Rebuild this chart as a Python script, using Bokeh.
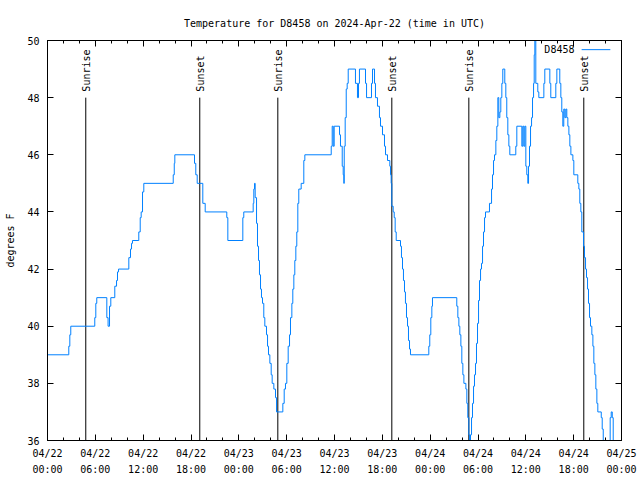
import math
from bokeh.plotting import figure
from bokeh.models import Range1d, FixedTicker, LinearAxis, ColumnDataSource
from bokeh.core.properties import value
from bokeh.embed import file_html
from bokeh.resources import INLINE

# ---- data (hours since 2024-04-22 00:00 UTC, temperature in F) ----
hours = [0.0, 2.67, 2.80, 2.92, 5.93, 6.06, 6.18, 7.44, 7.60, 7.78, 7.94, 8.44, 8.66, 8.78, 8.91,
         10.20, 10.41, 10.54, 10.66, 11.45, 11.63, 11.75, 11.92, 12.08, 15.77, 15.90, 15.97,
         18.44, 18.60, 18.78, 19.48, 19.78, 22.49, 22.62, 24.50, 24.62, 25.80, 25.88, 25.97,
         26.05, 26.22, 26.34, 26.47, 26.59, 26.72, 26.84, 26.97, 27.13, 27.26, 27.47, 27.60,
         27.72, 27.89, 28.06, 28.18, 28.39, 28.60, 28.73, 29.52, 29.69, 29.85, 30.02, 30.19,
         30.36, 30.48, 30.65, 30.77, 30.90, 31.02, 31.15, 31.27, 31.40, 31.52, 31.82, 32.15,
         32.28, 35.59, 35.71, 35.84, 35.96, 36.63, 36.75, 36.97, 37.09, 37.17, 37.22, 37.34,
         37.47, 37.59, 37.72, 38.63, 38.88, 39.01, 39.13, 39.89, 40.02, 40.64, 40.77, 41.02,
         41.14, 41.39, 41.64, 41.77, 42.02, 42.27, 42.40, 42.65, 42.94, 43.03, 43.11, 43.19,
         43.36, 43.49, 43.61, 43.74, 44.28, 44.40, 44.53, 44.65, 44.78, 44.90, 45.03, 45.16,
         45.28, 45.41, 45.53, 47.83, 47.95, 48.08, 48.21, 48.29, 51.34, 51.47, 51.60, 51.72,
         51.85, 51.97, 52.10, 52.23, 52.48, 52.60, 52.72, 52.85, 52.94, 53.06, 53.19, 53.31,
         53.44, 53.56, 53.69, 53.81, 53.94, 54.07, 54.19, 54.32, 54.44, 54.57, 54.69, 54.82,
         54.94, 55.44, 55.70, 55.82, 55.95, 56.07, 56.24, 56.36, 56.49, 56.61, 56.74, 56.86,
         56.99, 57.11, 57.36, 57.49, 57.61, 57.74, 57.87, 57.99, 58.74, 58.87, 59.50, 59.62,
         59.75, 59.87, 60.00, 60.12, 60.25, 60.34, 60.46, 60.59, 60.72, 60.84, 60.97, 61.05,
         61.13, 61.25, 61.50, 61.63, 62.26, 62.38, 63.01, 63.13, 63.76, 63.89, 64.26, 64.39,
         64.51, 64.64, 64.76, 64.89, 65.02, 65.14, 65.27, 65.40, 65.52, 65.65, 65.90, 66.02,
         66.52, 66.65, 66.77, 66.90, 67.02, 67.24, 67.36, 67.49, 67.61, 67.74, 67.86, 67.99,
         68.11, 68.28, 68.41, 68.53, 68.66, 68.78, 68.91, 69.03, 69.46, 69.58, 69.71, 70.58,
         70.71, 70.84, 70.96, 71.00]
temps = [39.0, 39.3, 39.7, 40.0, 40.3, 40.8, 41.0, 40.3, 40.0, 40.7, 41.0, 41.4, 41.6, 41.9, 42.0,
         42.4, 42.7, 42.9, 43.0, 43.3, 43.8, 44.0, 44.7, 45.0, 45.3, 45.7, 46.0,
         45.7, 45.3, 45.0, 44.3, 44.0, 43.8, 43.0, 43.8, 44.0, 44.3, 44.8, 45.0,
         44.5, 43.6, 42.8, 42.3, 41.8, 41.3, 41.0, 40.8, 40.3, 40.0, 39.7, 39.3,
         39.0, 38.7, 38.3, 38.0, 37.8, 37.5, 37.0, 37.3, 37.8, 38.0, 38.7, 39.3,
         39.7, 40.3, 40.8, 41.3, 41.8, 42.3, 42.8, 43.3, 44.3, 44.8, 45.0, 45.8,
         46.0, 46.3, 47.0, 46.3, 47.0, 46.7, 46.3, 45.6, 45.3, 45.0, 46.3, 47.3,
         48.3, 48.5, 49.0, 48.5, 48.0, 48.5, 49.0, 48.5, 48.0, 48.5, 49.0, 48.5,
         48.0, 47.7, 47.3, 47.0, 46.7, 46.3, 46.0, 45.8, 45.6, 45.3, 45.0, 44.2,
         44.0, 43.8, 43.3, 43.0, 42.8, 42.4, 42.0, 41.6, 41.2, 40.8, 40.3, 40.0,
         39.5, 39.2, 39.0, 39.3, 39.7, 40.3, 40.7, 41.0, 40.7, 40.3, 40.0, 39.7,
         39.3, 38.7, 38.3, 38.0, 37.8, 37.3, 36.8, 36.2, 36.0, 36.2, 36.8, 37.3,
         37.9, 38.3, 38.7, 39.4, 40.1, 40.9, 41.6, 42.0, 42.2, 42.8, 43.3, 43.8,
         44.0, 44.3, 44.8, 45.3, 45.8, 46.0, 46.5, 47.0, 48.0, 47.3, 47.5, 48.0,
         48.5, 49.0, 48.5, 48.0, 47.3, 46.7, 46.3, 46.0, 46.3, 47.0, 46.3, 47.0,
         46.3, 47.0, 45.6, 45.3, 45.0, 45.6, 46.3, 47.0, 47.3, 48.0, 48.5, 49.5,
         50.0, 48.5, 48.2, 48.0, 48.5, 49.0, 48.5, 48.0, 48.5, 49.0, 48.5, 48.0,
         47.5, 47.0, 47.6, 47.3, 47.6, 47.3, 47.0, 46.7, 46.3, 46.0, 45.8, 45.3,
         45.0, 44.8, 44.3, 44.0, 43.3, 42.8, 42.4, 42.0, 41.7, 41.3, 40.8, 40.3,
         40.0, 39.7, 39.3, 38.7, 38.3, 37.8, 37.3, 37.0, 36.8, 36.4, 36.0, 36.8,
         37.0, 36.8, 36.0, 36.0]

sun_hours = [4.80, 19.10, 28.89, 43.19, 52.85, 67.27]
sun_labels = ["Sunrise", "Sunset", "Sunrise", "Sunset", "Sunrise", "Sunset"]

x_ticks = [0, 6, 12, 18, 24, 30, 36, 42, 48, 54, 60, 66, 72]
x_minor = list(range(0, 73, 2))
x_dates = ["04/22"] * 4 + ["04/23"] * 4 + ["04/24"] * 4 + ["04/25"]
x_times = ["00:00", "06:00", "12:00", "18:00"] * 3 + ["00:00"]
y_ticks = [36, 38, 40, 42, 44, 46, 48, 50]

series_name = "D8458"
title_text = "Temperature for D8458 on 2024-Apr-22 (time in UTC)"

# ---- styling ----
FONT = "DejaVu Sans Mono"
FS = "10px"
LINE_COLOR = "#0080ff"
X0, X1 = 0, 72
Y0, Y1 = 36, 50

p = figure(frame_width=574, frame_height=400,
           x_range=Range1d(X0, X1), y_range=Range1d(Y0, Y1),
           x_axis_type=None, y_axis_type=None,
           output_backend="svg", toolbar_location=None,
           title=title_text,
           min_border_left=47, min_border_right=19,
           min_border_top=40, min_border_bottom=38)
p.title.text_font = FONT
p.title.text_font_size = FS
p.title.text_font_style = "normal"
p.title.text_color = "black"
p.title.align = "center"
p.title.standoff = 24
p.outline_line_color = "black"
p.outline_line_width = 1
p.background_fill_color = "white"
p.border_fill_color = "white"

labels_date = {t: d for t, d in zip(x_ticks, x_dates)}
labels_time = {t: s for t, s in zip(x_ticks, x_times)}
labels_none_x = {t: "" for t in x_ticks}
labels_none_y = {t: "" for t in y_ticks}


def style_axis(ax):
    ax.axis_line_color = "black"
    ax.major_tick_in = 6
    ax.major_tick_out = 0
    ax.minor_tick_in = 3
    ax.minor_tick_out = 0
    ax.major_tick_line_color = "black"
    ax.minor_tick_line_color = "black"
    ax.major_label_text_font = FONT
    ax.major_label_text_font_size = FS
    ax.major_label_text_color = "black"


# bottom axis (dates)
xb = LinearAxis(ticker=FixedTicker(ticks=x_ticks, minor_ticks=x_minor))
style_axis(xb)
xb.major_label_overrides = labels_date
xb.major_label_standoff = 7
p.add_layout(xb, "below")

# second bottom axis (times)
xb2 = LinearAxis(ticker=FixedTicker(ticks=x_ticks))
style_axis(xb2)
xb2.axis_line_color = None
xb2.major_tick_in = 0
xb2.minor_tick_in = 0
xb2.major_tick_line_color = None
xb2.minor_tick_line_color = None
xb2.major_label_overrides = labels_time
xb2.major_label_standoff = 2
p.add_layout(xb2, "below")

# top mirror ticks
xt = LinearAxis(ticker=FixedTicker(ticks=x_ticks, minor_ticks=x_minor))
style_axis(xt)
xt.major_label_overrides = labels_none_x
xt.major_label_standoff = 0
p.add_layout(xt, "above")

# left axis
yl = LinearAxis(ticker=FixedTicker(ticks=y_ticks, minor_ticks=[]))
style_axis(yl)
yl.major_label_standoff = 8
yl.axis_label = "degrees F"
yl.axis_label_text_font = FONT
yl.axis_label_text_font_size = FS
yl.axis_label_text_font_style = "normal"
yl.axis_label_text_color = "black"
yl.axis_label_standoff = 8
p.add_layout(yl, "left")

# right mirror ticks
yr = LinearAxis(ticker=FixedTicker(ticks=y_ticks, minor_ticks=[]))
style_axis(yr)
yr.major_label_overrides = labels_none_y
yr.major_label_standoff = 0
p.add_layout(yr, "right")

# sunrise / sunset markers
sun_top = 48
sun_src = ColumnDataSource(dict(x=sun_hours, y0=[Y0] * len(sun_hours),
                                y1=[sun_top] * len(sun_hours), label=sun_labels))
p.segment(x0="x", y0="y0", x1="x", y1="y1", source=sun_src,
          line_color="black", line_width=1)
p.text(x="x", y="y1", text="label", source=sun_src, angle=math.pi / 2,
       text_align="left", text_baseline="middle", y_offset=-6, x_offset=1,
       text_font=value(FONT), text_font_size=FS, text_color="black")

# temperature series
src = ColumnDataSource(dict(h=hours, t=temps))
p.step(x="h", y="t", source=src, mode="after", line_color=LINE_COLOR, line_width=1)

# gnuplot-style key (text then sample line) in the top right corner
key_y = Y1 - 0.32
p.text(x=[X1 - 5.9], y=[key_y], text=[series_name], text_align="right",
       text_baseline="middle", text_font=value(FONT), text_font_size=FS,
       text_color="black")
p.segment(x0=[X1 - 5.0], y0=[key_y], x1=[X1 - 1.4], y1=[key_y],
          line_color=LINE_COLOR, line_width=1)

open("out.html", "w").write(file_html(p, INLINE))
